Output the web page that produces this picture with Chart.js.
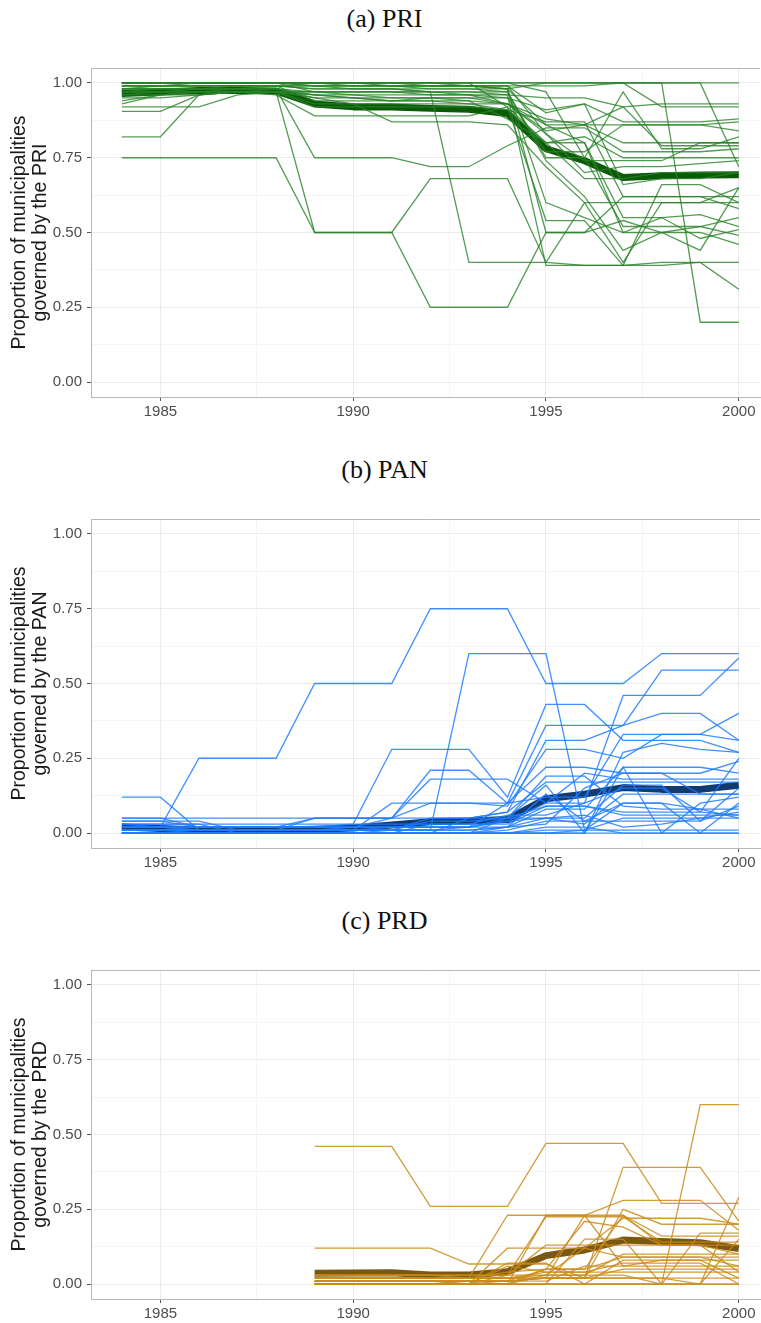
<!DOCTYPE html>
<html>
<head>
<meta charset="utf-8">
<script src="https://cdn.jsdelivr.net/npm/chart.js@4.4.1/dist/chart.umd.min.js"></script>
<style>
  html, body { margin: 0; padding: 0; background: #fff; overflow: hidden; width: 761px; height: 1323px; }
  .panel { position: absolute; left: 0; width: 761px; height: 440px; }
  .title { position: absolute; left: 4px; width: 761px; text-align: center; font-family: "Liberation Serif", serif; font-size: 26px; line-height: 30px; color: #111; }
</style>
</head>
<body>
<div class="title" style="top:4px">(a) PRI</div>
<div class="panel" style="top:0px"><canvas id="pri" width="761" height="440"></canvas></div>
<div class="title" style="top:455px">(b) PAN</div>
<div class="panel" style="top:451px"><canvas id="pan" width="761" height="440"></canvas></div>
<div class="title" style="top:906px">(c) PRD</div>
<div class="panel" style="top:902px"><canvas id="prd" width="761" height="440"></canvas></div>
<script>
const years = [1984,1985,1986,1987,1988,1989,1990,1991,1992,1993,1994,1995,1996,1997,1998,1999,2000];
const xTicks = [1985, 1987.5, 1990, 1992.5, 1995, 1997.5, 2000];
const yTicks = [0, 0.125, 0.25, 0.375, 0.5, 0.625, 0.75, 0.875, 1];

// PRI: state lines 1984-2000 and the overall mean
const priMean = [0.965,0.97,0.975,0.975,0.973,0.93,0.92,0.92,0.915,0.912,0.898,0.78,0.74,0.684,0.69,0.692,0.693];
const priLines = [
  [1,1,1,1,1,1,1,1,1,1,1,1,1,1,1,1,1],
  [1,1,1,1,1,1,1,1,1,0.99,0.98,1,1,1,1,0.20,0.20],
  [1,1,1,1,1,1,1,1,1,1,1,1,1,1,1,1,0.72],
  [0.75,0.75,0.75,0.75,0.75,0.50,0.50,0.50,0.68,0.68,0.68,0.40,0.39,0.39,0.40,0.40,0.31],
  [0.98,0.98,0.98,0.98,0.97,0.50,0.50,0.50,0.25,0.25,0.25,0.50,0.50,0.54,0.50,0.52,0.55],
  [0.82,0.82,0.96,0.97,0.97,0.96,0.95,0.95,0.95,0.95,0.93,0.88,0.86,0.92,0.93,0.93,0.93],
  [0.92,0.92,0.92,0.96,0.97,0.96,0.96,0.95,0.95,0.94,0.93,0.84,0.86,0.80,0.80,0.80,0.80],
  [0.905,0.905,0.96,0.97,0.96,0.89,0.89,0.89,0.89,0.89,0.92,0.80,0.82,0.75,0.75,0.75,0.75],
  [0.97,0.98,0.98,0.98,0.98,0.75,0.75,0.75,0.72,0.72,0.79,0.85,0.85,0.77,0.77,0.77,0.78],
  [0.99,0.99,0.99,0.99,0.99,0.98,0.98,0.98,0.97,0.40,0.40,0.40,0.60,0.60,0.60,0.60,0.60],
  [1,1,1,1,1,0.99,0.99,0.99,0.98,0.98,0.97,0.75,0.75,0.52,0.52,0.52,0.49],
  [0.96,0.97,0.97,0.98,0.98,0.95,0.93,0.87,0.87,0.87,0.86,0.72,0.60,0.40,0.60,0.60,0.65],
  [0.99,0.99,1,1,1,0.97,0.97,0.97,0.97,0.96,0.95,0.91,0.93,0.87,0.87,0.87,0.88],
  [0.98,0.98,0.98,0.98,0.98,0.96,0.95,0.94,0.94,0.93,0.91,0.87,0.87,0.62,0.62,0.62,0.58],
  [1,1,1,1,1,1,1,1,0.99,0.99,0.98,0.60,0.55,0.50,0.50,0.50,0.46],
  [0.97,0.97,0.98,0.99,0.99,0.98,0.98,0.98,0.97,0.97,0.96,0.39,0.39,0.39,0.66,0.66,0.60],
  [1,1,1,1,1,1,1,1,1,1,1,0.97,0.75,0.97,0.78,0.78,0.82],
  [0.96,0.96,0.97,0.97,0.97,0.93,0.93,0.93,0.93,0.93,0.93,0.83,0.70,0.72,0.72,0.73,0.74],
  [0.99,0.99,0.99,0.99,0.99,0.94,0.94,0.94,0.94,0.94,0.88,0.80,0.80,0.50,0.55,0.56,0.52],
  [1,1,1,1,1,0.99,0.99,0.99,0.99,0.99,0.99,0.99,0.99,1,0.92,0.92,0.92],
  [0.94,0.96,0.97,0.97,0.97,0.95,0.95,0.94,0.95,0.95,0.95,0.77,0.77,0.86,0.86,0.86,0.84],
  [0.98,0.98,0.98,0.98,0.98,0.97,0.96,0.96,0.96,0.96,0.93,0.86,0.80,0.55,0.55,0.48,0.51],
  [1,1,1,1,1,1,1,0.99,0.99,0.99,0.99,0.83,0.74,0.74,0.74,0.80,0.80],
  [0.97,0.97,0.97,0.97,0.97,0.97,0.97,0.97,0.96,0.96,0.96,0.95,0.95,0.92,0.79,0.79,0.79],
  [0.93,0.96,0.96,0.97,0.97,0.92,0.92,0.92,0.92,0.92,0.91,0.80,0.68,0.68,0.70,0.70,0.70],
  [0.99,0.99,0.99,0.99,0.99,0.99,0.98,0.98,0.98,0.98,0.98,0.86,0.86,0.86,0.86,0.86,0.87],
  [1,1,1,1,1,1,0.99,0.99,0.99,0.99,0.99,0.90,0.93,0.66,0.68,0.68,0.70],
  [0.95,0.95,0.96,0.97,0.97,0.97,0.97,0.97,0.97,0.97,0.97,0.74,0.62,0.44,0.50,0.44,0.65],
  [1,1,1,1,1,1,1,1,1,1,0.92,0.54,0.54,0.39,0.39,0.40,0.40],
  [0.98,0.99,0.99,0.99,0.99,0.99,0.99,0.99,0.99,0.99,0.98,0.50,0.50,0.62,0.62,0.62,0.62]
];

// PAN
const panMean = [0.02,0.015,0.01,0.01,0.01,0.013,0.017,0.027,0.038,0.04,0.045,0.115,0.13,0.152,0.146,0.146,0.16];
const panLines = [
  [0.12,0.12,0.01,0.01,0.01,0.01,0.01,0.01,0.01,0.01,0.02,0.05,0.06,0.02,0.03,0.05,0.07],
  [0.03,0.02,0.25,0.25,0.25,0.50,0.50,0.50,0.75,0.75,0.75,0.50,0.50,0.50,0.60,0.60,0.60],
  [0.01,0.01,0.01,0.01,0.01,0.01,0.01,0.01,0.01,0.60,0.60,0.60,0.01,0.10,0.10,0.08,0.05],
  [0.05,0.05,0.02,0.02,0.02,0.02,0.03,0.28,0.28,0.28,0.12,0.43,0.43,0.31,0.31,0.31,0.27],
  [0.04,0.04,0.04,0.01,0.01,0.05,0.05,0.05,0.21,0.21,0.10,0.36,0.36,0.36,0.40,0.40,0.31],
  [0.02,0.02,0.01,0.01,0.01,0.01,0.02,0.05,0.18,0.18,0.18,0.10,0.10,0.46,0.46,0.46,0.585],
  [0,0,0,0,0,0,0,0.01,0.05,0.05,0.07,0.31,0.31,0.36,0.545,0.545,0.545],
  [0.01,0.01,0.01,0.01,0.01,0.01,0.01,0.10,0.10,0.10,0.09,0.28,0.28,0.25,0.33,0.33,0.40],
  [0.05,0.05,0.05,0.05,0.05,0.05,0.05,0.05,0.10,0.10,0.10,0.22,0.22,0.20,0.20,0.20,0.24],
  [0,0,0,0,0,0,0,0,0,0.05,0.05,0.16,0,0.22,0.22,0.22,0.20],
  [0.02,0.02,0.02,0.02,0.02,0.02,0.02,0.02,0.02,0.02,0.10,0.12,0.12,0.33,0.33,0.33,0.31],
  [0.03,0.03,0.03,0,0,0,0,0,0.03,0.03,0.06,0.06,0.10,0.15,0.15,0.07,0.25],
  [0.01,0.01,0.01,0.01,0.01,0.01,0.01,0.01,0.01,0.01,0.02,0.08,0.08,0.22,0,0.10,0.12],
  [0,0,0,0,0,0,0,0,0,0,0,0,0.01,0.05,0.05,0.05,0.05],
  [0.04,0.04,0.02,0.02,0.02,0.02,0.02,0.02,0.02,0.02,0.05,0.05,0.03,0.13,0.13,0.13,0.13],
  [0.02,0.02,0.01,0.01,0.01,0.01,0.01,0.01,0.01,0.02,0.04,0.10,0.20,0.18,0.18,0.18,0.18],
  [0.01,0.01,0.01,0.01,0.01,0.01,0.01,0.01,0.04,0.04,0.05,0.19,0.19,0.09,0.08,0.08,0.08],
  [0,0,0,0,0,0,0,0,0,0,0.01,0.04,0.04,0.10,0.10,0,0.10],
  [0.03,0.03,0.03,0.03,0.03,0.03,0.03,0.03,0.03,0.03,0.03,0.09,0.09,0.07,0.07,0.07,0.06],
  [0,0,0,0,0,0,0,0,0,0,0,0.01,0.01,0.01,0.01,0.01,0.01],
  [0.01,0.01,0,0,0,0,0,0,0,0,0.02,0.03,0.15,0.20,0.20,0.13,0.13],
  [0.02,0.02,0.02,0.02,0.02,0.05,0.05,0.05,0.05,0.05,0.07,0.17,0.17,0.17,0.17,0.17,0.17],
  [0,0,0,0,0,0,0,0,0,0,0,0,0,0.27,0.30,0.28,0.27],
  [0.01,0.01,0.01,0.01,0.01,0.01,0.01,0.02,0.02,0.02,0.02,0.13,0.04,0.04,0.04,0.04,0.09],
  [0,0,0,0,0,0,0,0,0,0,0.05,0.09,0.09,0.06,0.06,0.06,0.06],
  [0.02,0.02,0.02,0.02,0.02,0.02,0.02,0.02,0.02,0.02,0.04,0.05,0.05,0.16,0.16,0.04,0.15],
  [0,0,0,0,0,0,0,0,0,0,0,0.02,0.02,0,0,0,0],
  [0,0,0,0,0,0,0,0,0,0,0,0,0,0,0,0,0]
];

// PRD: no data before 1989
const prdMean = [null,null,null,null,null,0.036,0.037,0.038,0.03,0.03,0.041,0.095,0.114,0.147,0.142,0.138,0.119];
const prdLines = [
  [0.46,0.46,0.46,0.26,0.26,0.26,0.47,0.47,0.47,0.27,0.27,0.27],
  [0.12,0.12,0.12,0.12,0.067,0.067,0.067,0.02,0.39,0.39,0.39,0.21],
  [0,0,0,0,0,0,0,0,0,0,0.60,0.60],
  [0.01,0.01,0.01,0.01,0.01,0.01,0.02,0.02,0.02,0.02,0,0.29],
  [0.02,0.02,0.02,0.02,0.02,0.23,0.23,0.23,0.28,0.28,0.28,0.18],
  [0.03,0.03,0.03,0.03,0.03,0.03,0.225,0.225,0.225,0.14,0.14,0.14],
  [0.01,0.01,0.01,0.01,0,0.12,0.12,0.12,0.22,0.22,0.22,0.20],
  [0,0,0,0,0,0,0.05,0.05,0.23,0.16,0.16,0.16],
  [0.02,0.02,0.02,0.02,0.02,0.02,0.02,0.23,0.06,0.06,0.06,0.06],
  [0.01,0.01,0.01,0.01,0.01,0.01,0.02,0.02,0.25,0.20,0.20,0.20],
  [0,0,0,0,0,0.03,0.13,0.13,0.13,0.13,0.13,0.04],
  [0.02,0.02,0.02,0.02,0.02,0.04,0.05,0.21,0.19,0.13,0.13,0.13],
  [0.03,0.03,0.03,0.03,0.03,0.03,0.03,0.03,0.10,0.10,0.10,0.10],
  [0,0,0,0,0,0,0.03,0.03,0.03,0,0,0.15],
  [0.01,0.01,0.01,0.01,0.01,0.01,0.05,0.05,0.09,0.09,0.09,0.06],
  [0,0,0,0,0,0.07,0.07,0,0,0,0.17,0.17],
  [0.02,0.02,0.02,0.02,0.02,0.02,0.04,0.04,0.04,0.04,0.04,0.04],
  [0.01,0.01,0.01,0.01,0.01,0.01,0.01,0.06,0.06,0.08,0.08,0.08],
  [0,0,0,0,0,0,0,0,0.08,0.08,0.08,0.02],
  [0,0,0,0,0,0,0,0,0,0,0,0],
  [0.01,0.01,0.01,0.01,0.01,0.01,0.02,0.02,0.02,0.02,0.02,0.02],
  [0.03,0.03,0.03,0.03,0.02,0.02,0.03,0.12,0.09,0.09,0.09,0.09],
  [0,0,0,0,0,0.06,0.04,0.04,0.07,0.07,0.07,0],
  [0,0,0,0,0.01,0,0.23,0.23,0.23,0.13,0.13,0.10],
  [0,0,0,0,0,0,0,0.15,0.15,0,0,0],
  [0.02,0.02,0.02,0.02,0.02,0.02,0.02,0.02,0.05,0.05,0.05,0.05]
];
const prdYears = years.slice(5);

function toPoints(xs, vals) {
  let pts = []
  xs.forEach(function (yr, i) {
    if (vals[i] !== null) pts.push({x: yr, y: vals[i]})
  })
  return pts
}

const panelBorder = {
  id: 'panelBorder',
  afterDraw(chart) {
    const {ctx, chartArea} = chart;
    ctx.save();
    ctx.strokeStyle = '#b8b8b8';
    ctx.lineWidth = 1;
    ctx.beginPath();
    ctx.moveTo(chartArea.left, chartArea.top + 0.5);
    ctx.lineTo(chartArea.right, chartArea.top + 0.5);
    ctx.stroke();
    ctx.restore();
  }
};

function makePanel(id, party, xs, lines, meanXs, mean, thin, thick) {
  let datasets = []
  lines.forEach(function (vals) {
    datasets.push({
      data: toPoints(xs, vals),
      borderColor: thin,
      borderWidth: 1.3,
      pointRadius: 0,
      tension: 0
    })
  })
  datasets.push({
    data: toPoints(meanXs, mean),
    borderColor: thick,
    borderWidth: 7,
    pointRadius: 0,
    tension: 0,
    borderJoinStyle: 'round'
  })

  const isMajorY = v => Math.abs(v * 4 - Math.round(v * 4)) < 1e-9;
  const isMajorX = v => Math.abs(v % 5) < 1e-9;
  const tickFont = {family: '"Liberation Sans", Arial, sans-serif', size: 15};

  return new Chart(document.getElementById(id), {
    type: 'line',
    data: {datasets: datasets},
    plugins: [panelBorder],
    options: {
      responsive: false,
      animation: false,
      events: [],
      layout: {padding: {top: 68, right: 1, left: 0, bottom: 0}},
      plugins: {legend: {display: false}, tooltip: {enabled: false}},
      scales: {
        x: {
          type: 'linear',
          min: 1983.2,
          max: 2000.55,
          afterBuildTicks: s => { s.ticks = xTicks.map(v => ({value: v})) },
          afterFit: s => { s.height = 43 },
          ticks: {
            autoSkip: false, maxRotation: 0, padding: 2, color: '#4d4d4d', font: tickFont,
            callback: v => isMajorX(v) ? String(v) : ''
          },
          grid: {
            color: c => isMajorX(c.tick.value) ? '#ebebeb' : '#f5f5f5',
            tickColor: c => isMajorX(c.tick.value) ? '#555' : 'rgba(0,0,0,0)',
            tickLength: 4
          },
          border: {color: '#b8b8b8', width: 1}
        },
        y: {
          min: -0.05,
          max: 1.05,
          afterBuildTicks: s => { s.ticks = yTicks.map(v => ({value: v})) },
          afterFit: s => { s.width = 91 },
          ticks: {
            autoSkip: false, padding: 5, color: '#4d4d4d', font: tickFont,
            callback: v => isMajorY(v) ? v.toFixed(2) : ''
          },
          grid: {
            color: c => isMajorY(c.tick.value) ? '#ebebeb' : '#f5f5f5',
            tickColor: c => isMajorY(c.tick.value) ? '#555' : 'rgba(0,0,0,0)',
            tickLength: 4
          },
          border: {color: '#b8b8b8', width: 1},
          title: {
            display: true,
            text: ['Proportion of municipalities', 'governed by the ' + party],
            color: '#1a1a1a',
            font: {family: '"Liberation Sans", Arial, sans-serif', size: 19.5, lineHeight: 1.08},
            padding: {top: 9, bottom: 0}
          }
        }
      }
    }
  })
}

makePanel('pri', 'PRI', years, priLines, years, priMean, 'rgba(40,130,40,0.8)', '#0b5a08');
makePanel('pan', 'PAN', years, panLines, years, panMean, 'rgba(30,125,255,0.85)', '#123b72');
makePanel('prd', 'PRD', prdYears, prdLines, years, prdMean, 'rgba(200,140,25,0.85)', '#7a5714');
</script>
</body>
</html>
